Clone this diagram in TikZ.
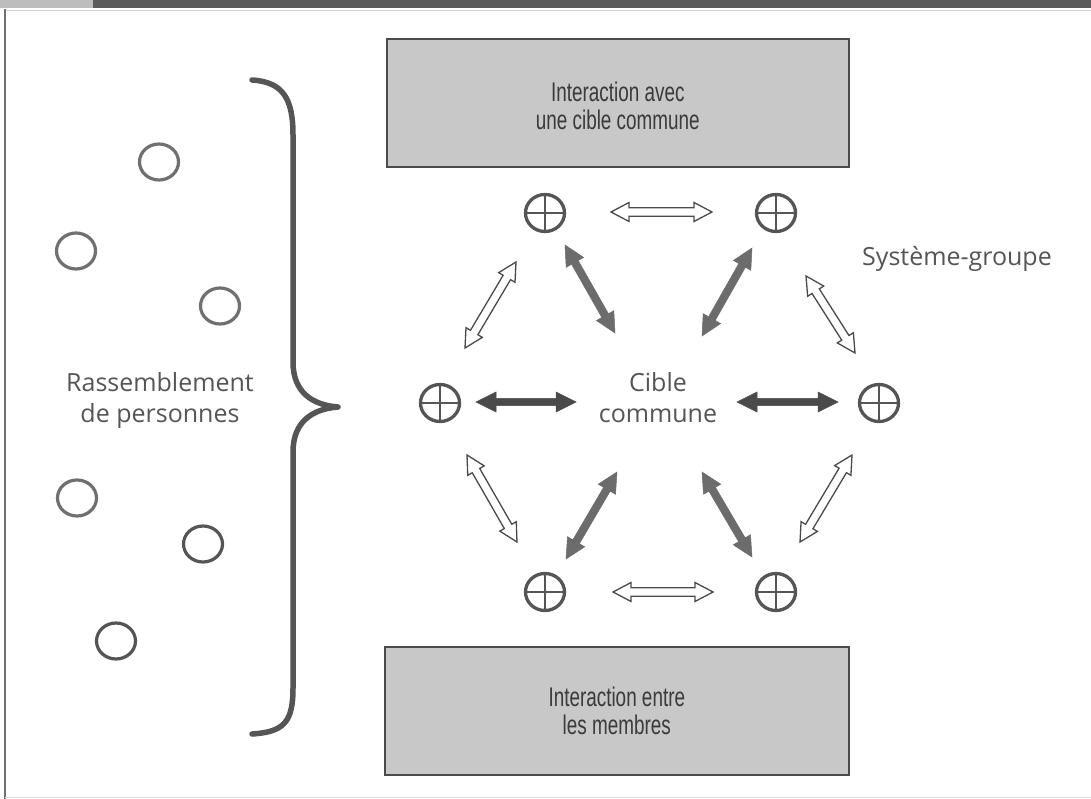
\documentclass[tikz,border=0pt]{standalone}
\usepackage{fontspec}
\newfontfamily\lblfont{Open Sans}
\newfontfamily\boxfont[FakeStretch=0.70]{Liberation Sans}
\usetikzlibrary{calc,shapes.geometric}
\definecolor{ink}{HTML}{555555}
\definecolor{inkdark}{HTML}{4A4A4A}
\definecolor{inkmid}{HTML}{6C6C6C}
\definecolor{personc}{HTML}{707070}
\definecolor{boxgrey}{HTML}{C8C8C8}
\definecolor{boxink}{HTML}{3A3A3A}
\definecolor{barlight}{HTML}{BDBDBD}
\definecolor{bardark}{HTML}{5A5A5A}
\tikzset{
  member/.style={ellipse, draw=ink, line width=3.3pt, minimum width=39pt, minimum height=37pt, inner sep=0pt,
    path picture={\draw[ink, line width=1.8pt]
      (path picture bounding box.north) -- (path picture bounding box.south)
      (path picture bounding box.west) -- (path picture bounding box.east);}},
  person/.style={ellipse, draw=personc, line width=3.2pt, minimum width=39pt, minimum height=36pt, inner sep=0pt},
  lbl/.style={font=\lblfont\fontsize{25}{31}\selectfont, text=ink, align=center, inner sep=0pt},
  greybox/.style={draw=inkdark, line width=1.6pt, fill=boxgrey},
  boxtext/.style={font=\boxfont\fontsize{27}{28}\selectfont, text=boxink, align=center},
  hollow/.style={draw=inkdark, line width=1.3pt, fill=white, line join=miter},
  solidh/.style={fill=inkdark, draw=inkdark, line width=0.5pt},
  solidd/.style={fill=inkmid, draw=inkmid, line width=0.5pt},
  brace/.style={draw=ink, line width=5.5pt, line cap=round, line join=round}
}
\newcommand\twoway[6]{%
  \coordinate (tw1) at ($(#2)!#4!(#3)$);
  \coordinate (tw2) at ($(#3)!#4!(#2)$);
  \path[#1] (#2) -- ($(tw1)!#5!90:(#3)$) -- ($(tw1)!#6!90:(#3)$)
    -- ($(tw2)!#6!-90:(#2)$) -- ($(tw2)!#5!-90:(#2)$) -- (#3)
    -- ($(tw2)!#5!90:(#2)$) -- ($(tw2)!#6!90:(#2)$)
    -- ($(tw1)!#6!-90:(#3)$) -- ($(tw1)!#5!-90:(#3)$) -- cycle;}
\newcommand\hollowarrow[2]{\twoway{hollow}{#1}{#2}{18pt}{9.5pt}{4.3pt}}
\newcommand\solidarrowH[2]{\twoway{solidh}{#1}{#2}{20pt}{10pt}{3.6pt}}
\newcommand\solidarrowD[2]{\twoway{solidd}{#1}{#2}{20pt}{10pt}{3.8pt}}
\begin{document}
\begin{tikzpicture}[x=1pt,y=-1pt]
\useasboundingbox (0,0) rectangle (1091,799);
\fill[white] (0,0) rectangle (1091,799);
% header bar and frame
\fill[barlight] (0,0) rectangle (93,8);
\fill[bardark] (93,0) rectangle (1091,8);
\draw[barlight!70, line width=1pt] (5,11) -- (1091,11);
\draw[personc, line width=1.6pt] (5,9) -- (5,799);
\draw[barlight!50, line width=1pt] (5,797) -- (1091,797);

% boxes
\node[greybox, minimum width=462pt, minimum height=128pt, anchor=north west] (topbox) at (386,38) {};
\node[boxtext] (toptext) at ($(topbox.center)+(0,3)$) {Interaction avec\\une cible commune};
\node[greybox, minimum width=464pt, minimum height=128pt, anchor=north west] (botbox) at (384,646) {};
\node[boxtext] (bottext) at (botbox.center) {Interaction entre\\les membres};

% left side
\node[person] (p1) at (159,162) {};
\node[person] (p2) at (76,251) {};
\node[person] (p3) at (220,306) {};
\node[person] (p4) at (77,498) {};
\node[person, draw=ink] (p5) at (203,544) {};
\node[person, draw=ink] (p6) at (116,641) {};
\node[lbl] (rass) at (160,401) {Rassemblement\\de personnes};
\draw[brace] (252,80) .. controls (284,82) and (293,100) .. (293,135)
  -- (293,362) .. controls (293,392) and (312,405) .. (338,407)
  .. controls (312,409) and (293,422) .. (293,452)
  -- (293,688) .. controls (293,722) and (284,732) .. (252,734);

% members
\node[member] (m1) at (545,213) {};
\node[member] (m2) at (776,213) {};
\node[member] (m3) at (440,403) {};
\node[member] (m4) at (879,403) {};
\node[member] (m5) at (545,592) {};
\node[member] (m6) at (776,592) {};
\node[lbl] (cible) at (658,398) {Cible\\commune};
\node[lbl, anchor=west] (sys) at (862,259) {Système-groupe};

% arrow end points
\coordinate (a1) at (611,212); \coordinate (b1) at (712,212);
\coordinate (a2) at (613,592); \coordinate (b2) at (713,592);
\coordinate (a3) at (476,402); \coordinate (b3) at (576,402);
\coordinate (a4) at (737,402); \coordinate (b4) at (838,402);
\coordinate (a5) at (565,245); \coordinate (b5) at (615,333);
\coordinate (a6) at (752,248); \coordinate (b6) at (702,336);
\coordinate (a7) at (617,472); \coordinate (b7) at (566,559);
\coordinate (a8) at (702,472); \coordinate (b8) at (752,557);
\coordinate (a9) at (516,262); \coordinate (b9) at (465,348);
\coordinate (a10) at (806,276); \coordinate (b10) at (855,353);
\coordinate (a11) at (467,455); \coordinate (b11) at (517,542);
\coordinate (a12) at (852,455); \coordinate (b12) at (800,542);

\hollowarrow{a1}{b1}
\hollowarrow{a2}{b2}
\solidarrowH{a3}{b3}
\solidarrowH{a4}{b4}
\solidarrowD{a5}{b5}
\solidarrowD{a6}{b6}
\solidarrowD{a7}{b7}
\solidarrowD{a8}{b8}
\hollowarrow{a9}{b9}
\hollowarrow{a10}{b10}
\hollowarrow{a11}{b11}
\hollowarrow{a12}{b12}
\end{tikzpicture}
\end{document}
